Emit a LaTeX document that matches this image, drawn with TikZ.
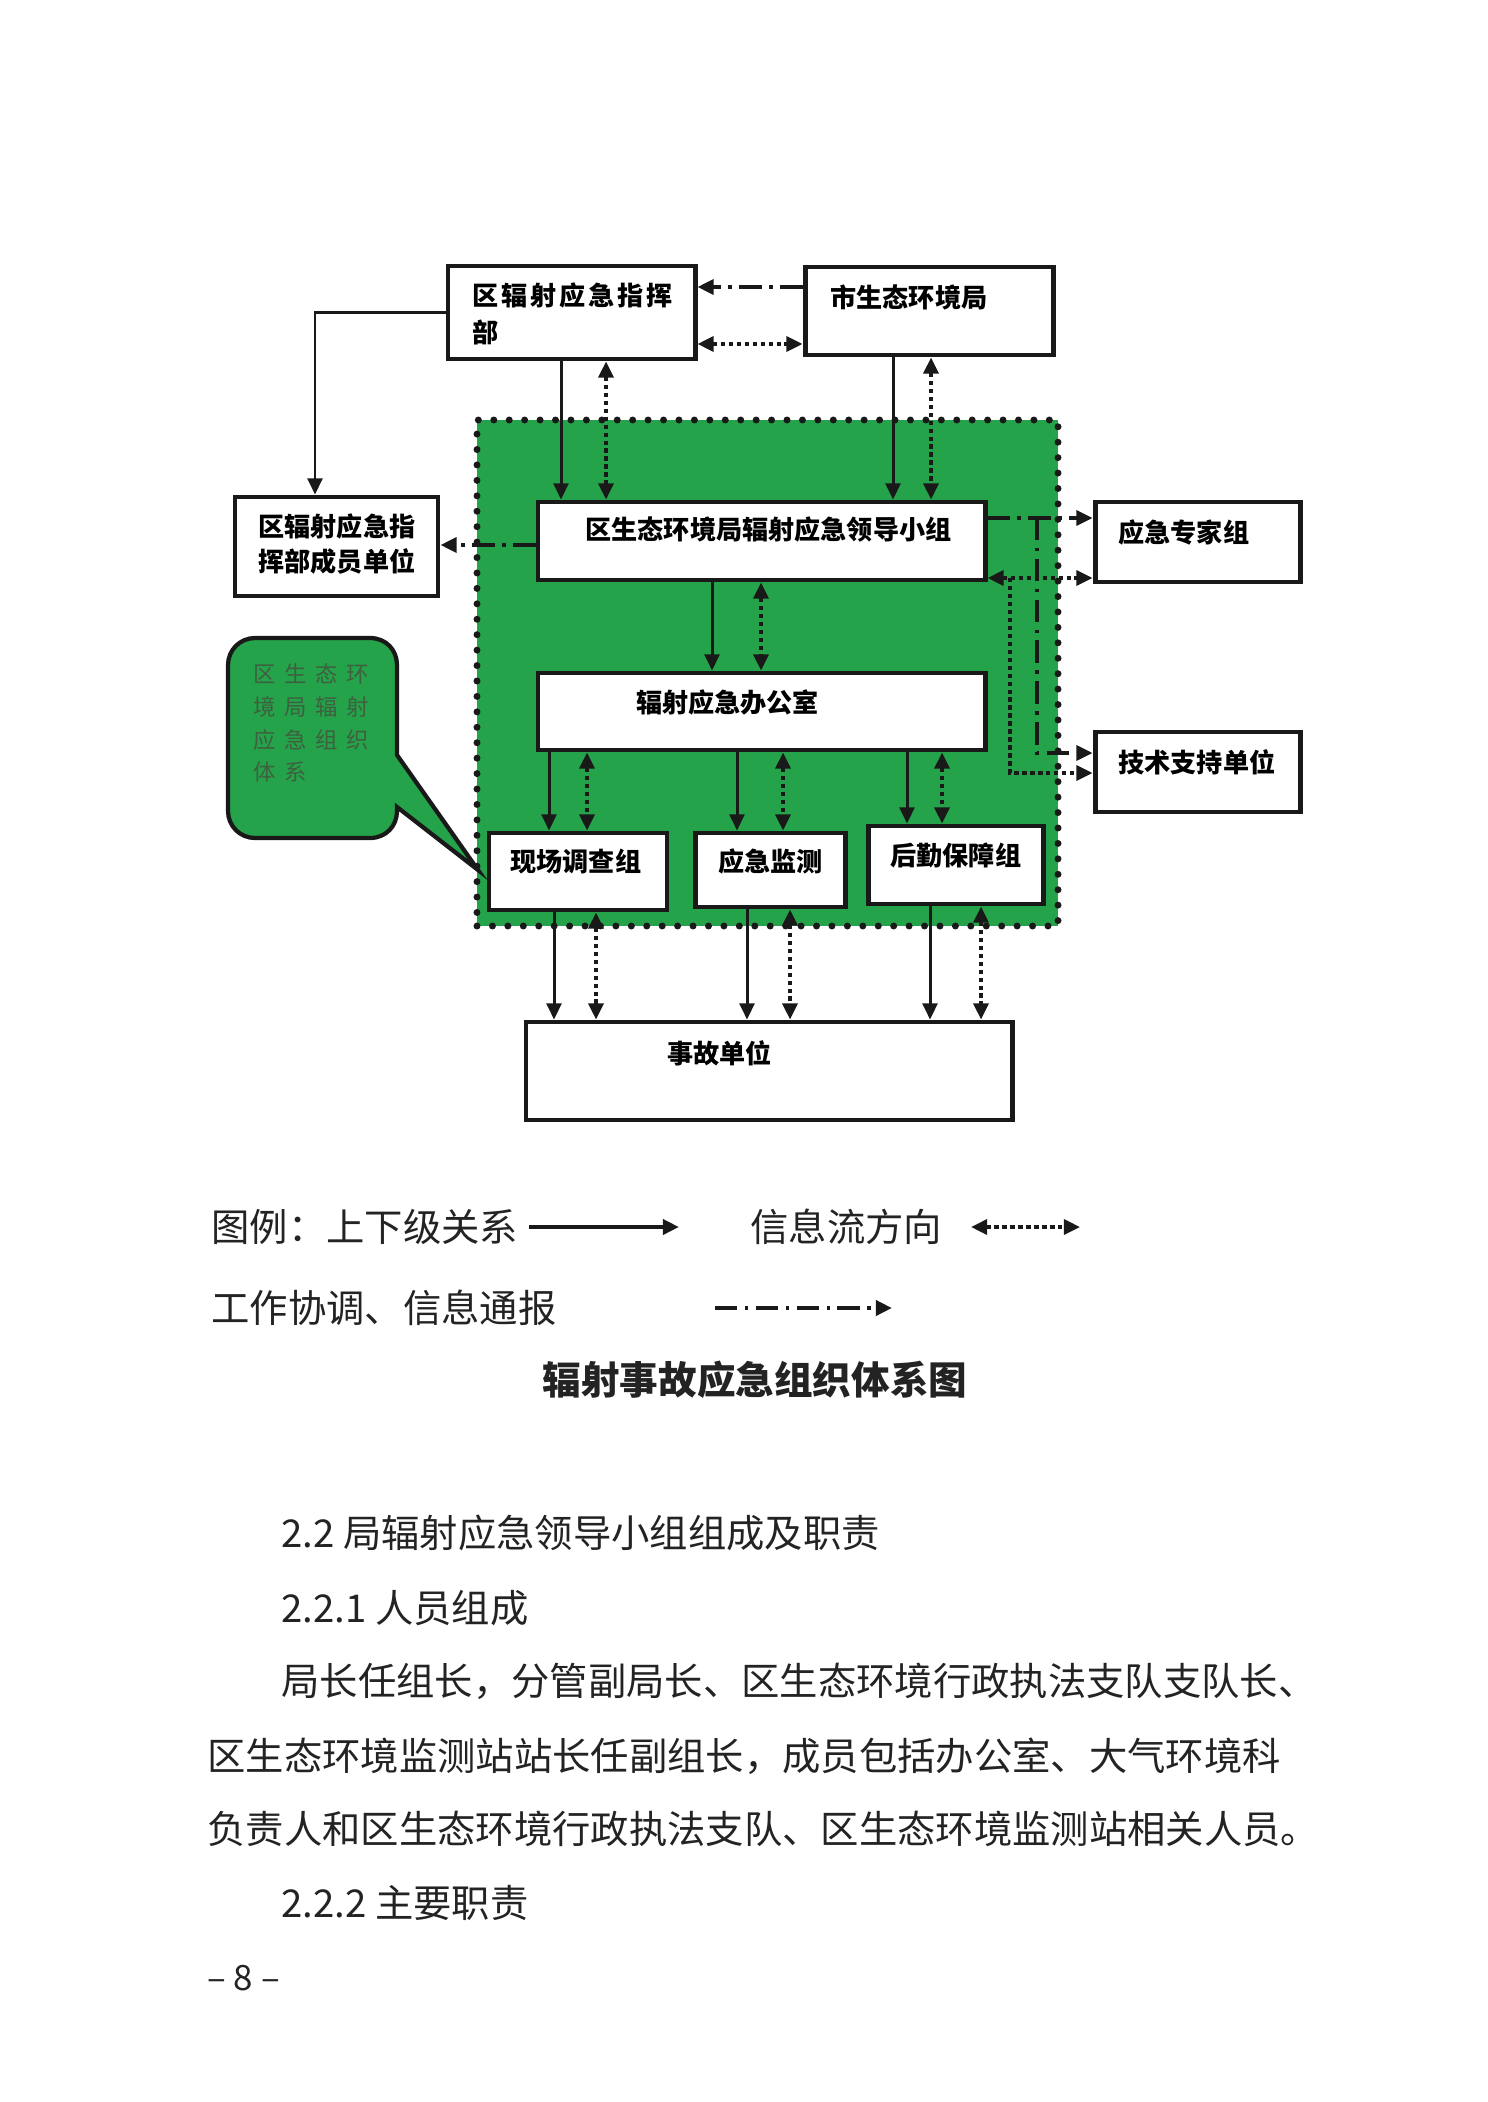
\documentclass[tikz,border=0pt]{standalone}
\usepackage{fontspec}
\setmainfont{Noto Sans CJK SC}
\newfontfamily\cjkwide{Noto Sans CJK SC}[LetterSpace=11]
\newfontfamily\cjkbubble{Noto Sans CJK SC}[LetterSpace=38]
\usepackage{tikz}
\usetikzlibrary{arrows.meta}
\definecolor{regiongreen}{RGB}{36,163,74}
\definecolor{bubbletext}{RGB}{62,96,64}
\definecolor{boxline}{RGB}{25,25,25}
\definecolor{bodytext}{RGB}{35,35,35}

\begin{document}
\begin{tikzpicture}[x=0.1412mm, y=-0.1412mm, >={Triangle[length=6.5pt,width=6pt]},
  unit/.style 2 args={draw=boxline, line width=2pt, fill=white, inner sep=0pt,
    minimum width=#1*0.1412mm, minimum height=#2*0.1412mm},
  lbl/.style={inner sep=0pt, anchor=west, align=left, font=\bfseries\fontsize{10.5}{14}\selectfont},
  body/.style={inner sep=0pt, anchor=west, text=bodytext, font=\fontsize{15.4}{18}\selectfont},
  rankline/.style={line width=1.2pt, draw=boxline, ->},
  infoline/.style={line width=1.4pt, draw=boxline, dash pattern=on 1.8pt off 1.4pt, <->},
  workline/.style={line width=1.4pt, draw=boxline, dash pattern=on 9pt off 3pt on 1.4pt off 3pt, ->}]
  \useasboundingbox (0,0) rectangle (1487,2102);
  \fill[white] (0,0) rectangle (1487,2102);

  % green area of the bureau
  \node[draw=boxline, fill=regiongreen, line width=2.8pt, dash pattern=on 0pt off 6.2pt, line cap=round,
    inner sep=0pt, minimum width=581*0.1412mm, minimum height=506*0.1412mm] (region) at (767.5,673) {};

  % callout
  \draw[draw=boxline, line width=1.7pt, fill=regiongreen]
    (397,755) -- (397,665) .. controls (397,650) and (386,638) .. (370,638)
    -- (255,638) .. controls (240,638) and (228,650) .. (228,665)
    -- (228,811) .. controls (228,826) and (240,838) .. (255,838)
    -- (370,838) .. controls (386,838) and (397,826) .. (397,811)
    -- (397,807) -- (478,870) -- cycle;
  \node[lbl, text=bubbletext, font=\cjkbubble\fontsize{9}{13.2}\selectfont] (callout) at (253,723)
    {区生态环\\境局辐射\\应急组织\\体系};

  % boxes
  \node[unit={247}{93}] (cmd) at (571.5,312.5) {};
  \node[unit={248}{88}] (city) at (929,311) {};
  \node[unit={203}{99}] (member) at (336.5,546.5) {};
  \node[unit={447}{78}] (lead) at (761.5,541) {};
  \node[unit={205}{80}] (expert) at (1197.5,542) {};
  \node[unit={447}{77}] (office) at (761.5,711.5) {};
  \node[unit={205}{80}] (tech) at (1197.5,772) {};
  \node[unit={178}{77}] (field) at (578,871.5) {};
  \node[unit={150}{74}] (monitor) at (770,870) {};
  \node[unit={175}{78}] (logistic) at (955.5,865) {};
  \node[unit={486}{98}] (accident) at (769,1071) {};

  \node[lbl, font=\cjkwide\bfseries\fontsize{10.5}{14.8}\selectfont] (cmd-t) at (472,313.5) {区辐射应急指挥\\部};
  \node[lbl] (city-t) at (830,297) {市生态环境局};
  \node[lbl, anchor=center] (lead-t) at (768.5,530) {区生态环境局辐射应急领导小组};
  \node[lbl] (member-t) at (258,544.5) {区辐射应急指\\挥部成员单位};
  \node[lbl] (expert-t) at (1118,533) {应急专家组};
  \node[lbl, anchor=center] (office-t) at (727.5,702) {辐射应急办公室};
  \node[lbl] (tech-t) at (1118,762) {技术支持单位};
  \node[lbl] (field-t) at (510,862) {现场调查组};
  \node[lbl] (monitor-t) at (718,862) {应急监测};
  \node[lbl] (logistic-t) at (890,855) {后勤保障组};
  \node[lbl] (accident-t) at (667,1053) {事故单位};

  % connectors
  \coordinate (split1) at (1037,518);
  \coordinate (split2) at (1010,578);
  \draw[rankline] (cmd.west) -| (member.north -| 315,0);
  \draw[rankline] (cmd.south -| 561,0) -- (lead.north -| 561,0);
  \draw[infoline] (cmd.south -| 606,0) -- (lead.north -| 606,0);
  \draw[workline] (city.west |- 0,287) -- (cmd.east |- 0,287);
  \draw[infoline] (cmd.east |- 0,344) -- (city.west |- 0,344);
  \draw[rankline] (city.south -| 893,0) -- (lead.north -| 893,0);
  \draw[infoline] (city.south -| 931,0) -- (lead.north -| 931,0);
  \draw[workline] (lead.west |- 0,545) -- (member.east |- 0,545);
  \draw[workline] (lead.east |- 0,518) -- (expert.west |- 0,518);
  \draw[workline] (split1) |- (tech.west |- 0,753);
  \draw[infoline] (lead.east |- 0,578) -- (expert.west |- 0,578);
  \draw[infoline, ->] (split2) |- (tech.west |- 0,773);
  \draw[rankline] (lead.south -| 712,0) -- (office.north -| 712,0);
  \draw[infoline] (lead.south -| 761,0) -- (office.north -| 761,0);
  \draw[rankline] (office.south -| 549,0) -- (field.north -| 549,0);
  \draw[infoline] (office.south -| 587,0) -- (field.north -| 587,0);
  \draw[rankline] (office.south -| 737,0) -- (monitor.north -| 737,0);
  \draw[infoline] (office.south -| 783,0) -- (monitor.north -| 783,0);
  \draw[rankline] (office.south -| 907,0) -- (logistic.north -| 907,0);
  \draw[infoline] (office.south -| 942,0) -- (logistic.north -| 942,0);
  \draw[rankline] (field.south -| 554,0) -- (accident.north -| 554,0);
  \draw[infoline] (field.south -| 596,0) -- (accident.north -| 596,0);
  \draw[rankline] (monitor.south -| 747,0) -- (accident.north -| 747,0);
  \draw[infoline] (monitor.south -| 790,0) -- (accident.north -| 790,0);
  \draw[rankline] (logistic.south -| 930,0) -- (accident.north -| 930,0);
  \draw[infoline] (logistic.south -| 981,0) -- (accident.north -| 981,0);

  % legend
  \node[body] (leg-rank) at (211,1227) {图例：上下级关系};
  \node[body] (leg-info) at (750,1227) {信息流方向};
  \node[body] (leg-work) at (211,1308) {工作协调、信息通报};
  \coordinate (lg-rank-a) at (529,1227);
  \coordinate (lg-rank-b) at (679,1227);
  \coordinate (lg-info-a) at (971,1227);
  \coordinate (lg-info-b) at (1080,1227);
  \coordinate (lg-work-a) at (715,1308);
  \coordinate (lg-work-b) at (892,1308);
  \draw[rankline, line width=1.8pt] (lg-rank-a) -- (lg-rank-b);
  \draw[infoline] (lg-info-a) -- (lg-info-b);
  \draw[workline, line width=1.8pt] (lg-work-a) -- (lg-work-b);

  \node[inner sep=0pt, text=bodytext, font=\bfseries\fontsize{15.5}{18}\selectfont] (title) at (755,1380) {辐射事故应急组织体系图};

  % text below
  \node[body] (sec22) at (281,1533) {2.2 局辐射应急领导小组组成及职责};
  \node[body] (sec221) at (281,1608) {2.2.1 人员组成};
  \node[body] (par1) at (281,1681) {局长任组长，分管副局长、区生态环境行政执法支队支队长、};
  \node[body] (par2) at (207,1756) {区生态环境监测站站长任副组长，成员包括办公室、大气环境科};
  \node[body] (par3) at (207,1829) {负责人和区生态环境行政执法支队、区生态环境监测站相关人员。};
  \node[body] (sec222) at (281,1903) {2.2.2 主要职责};
  \node[body, font=\fontsize{14}{16}\selectfont] (page) at (207,1978) {– 8 –};
\end{tikzpicture}
\end{document}
